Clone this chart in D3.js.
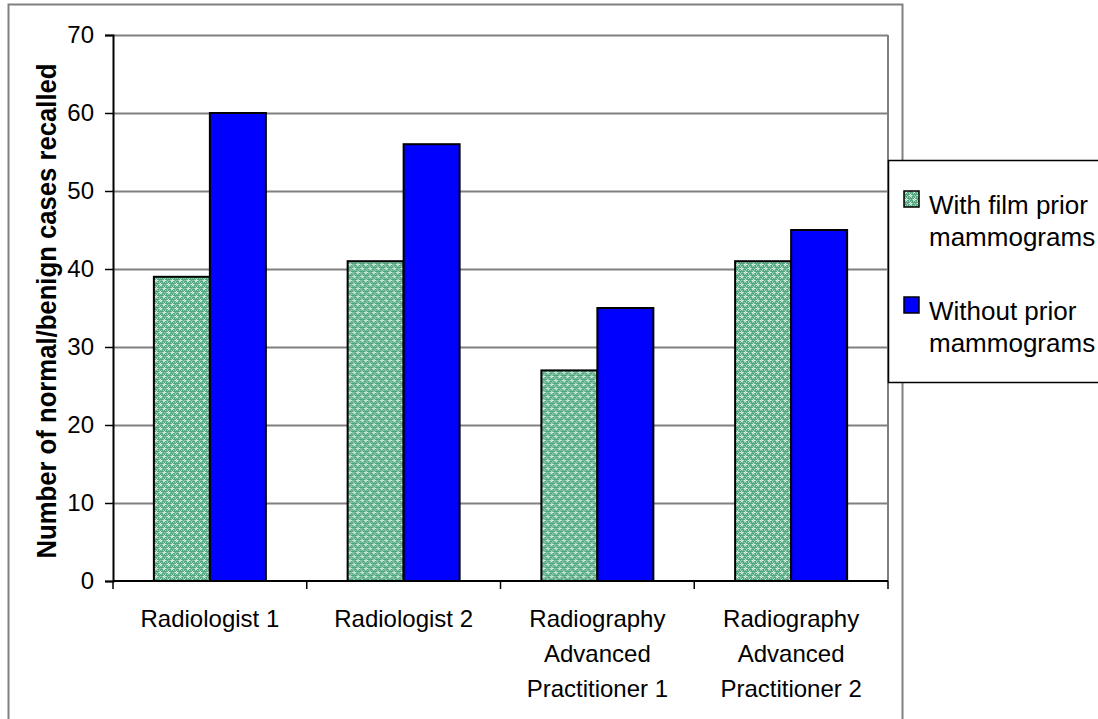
<!DOCTYPE html>
<html>
<head>
<meta charset="utf-8">
<script src="https://cdn.jsdelivr.net/npm/d3@7"></script>
<style>
  html, body { margin: 0; padding: 0; background: #fff; }
  svg { display: block; font-family: "Liberation Sans", Arial, sans-serif; }
</style>
</head>
<body>
<svg id="chart" width="1098" height="719"></svg>
<script>
// Recall counts per reader, with and without prior mammograms
const categories = [
  ["Radiologist 1"],
  ["Radiologist 2"],
  ["Radiography", "Advanced", "Practitioner 1"],
  ["Radiography", "Advanced", "Practitioner 2"]
];
const seriesNames = [
  ["With film prior", "mammograms"],
  ["Without prior", "mammograms"]
];
const withFilmPrior = [39, 41, 27, 41];
const withoutPrior = [60, 56, 35, 45];
const yTicks = [0, 10, 20, 30, 40, 50, 60, 70];
const yTitle = "Number of normal/benign cases recalled";

const svg = d3.select("#chart");
const plot = { left: 113, right: 888, top: 35, bottom: 581 };

// dotted green fill for the first series
const defs = svg.append("defs");
const pat = defs.append("pattern")
  .attr("id", "dotgreen").attr("patternUnits", "userSpaceOnUse")
  .attr("width", 8).attr("height", 8);
pat.append("rect").attr("width", 8).attr("height", 8).attr("fill", "#4fa67d");
const px = (pts, c) => pts.forEach(([x, y]) =>
  pat.append("rect").attr("x", x).attr("y", y).attr("width", 1).attr("height", 1).attr("fill", c));
// light checker
px([[0,0],[2,0],[4,0],[6,0],[1,2],[3,2],[5,2],[7,2],[0,4],[2,4],[4,4],[6,4],[1,6],[3,6],[5,6],[7,6],
    [1,1],[5,1],[3,5],[7,5]], "#a3d3bb");
// white crosses
px([[2,1],[1,0],[3,0],[2,7],[6,5],[5,4],[7,4],[6,3]], "#e8f5ee");

// outer chart frame
svg.append("rect").attr("x", 8.5).attr("y", 4.5).attr("width", 894).attr("height", 730)
  .attr("fill", "#fff").attr("stroke", "#808080").attr("stroke-width", 2);

const y = d3.scaleLinear().domain([0, 70]).range([plot.bottom, plot.top]);
const x0 = d3.scaleBand().domain(d3.range(categories.length)).range([plot.left, plot.right]);
const groupW = 112;
const x1 = d3.scaleBand().domain([0, 1]).range([0, groupW]);

// gridlines and plot frame
svg.append("g").selectAll("line").data(yTicks.filter(d => d > 0)).join("line")
  .attr("x1", plot.left).attr("x2", plot.right)
  .attr("y1", d => Math.round(y(d)) + 0.5).attr("y2", d => Math.round(y(d)) + 0.5)
  .attr("stroke", "#808080").attr("stroke-width", 2);
svg.append("line").attr("x1", plot.right).attr("x2", plot.right)
  .attr("y1", plot.top).attr("y2", plot.bottom).attr("stroke", "#808080").attr("stroke-width", 2);

// bars
const rows = categories.map((c, i) => [withFilmPrior[i], withoutPrior[i]]);
const groups = svg.append("g").selectAll("g").data(rows).join("g")
  .attr("transform", (d, i) => `translate(${x0(i) + (x0.bandwidth() - groupW) / 2},0)`);
groups.selectAll("rect").data(d => d).join("rect")
  .attr("x", (d, j) => x1(j))
  .attr("y", d => y(d))
  .attr("width", x1.bandwidth())
  .attr("height", d => plot.bottom - y(d))
  .attr("fill", (d, j) => j === 0 ? "url(#dotgreen)" : "#0000ff")
  .attr("stroke", "#000").attr("stroke-width", 2);

// y axis
const yAxis = d3.axisLeft(y).tickValues(yTicks).tickSize(8).tickPadding(11);
const gy = svg.append("g").attr("transform", `translate(${plot.left},0)`).call(yAxis);
gy.select(".domain").attr("stroke", "#000").attr("stroke-width", 2);
gy.selectAll(".tick line").attr("stroke", "#000").attr("stroke-width", 1.5);
gy.selectAll(".tick text").attr("font-size", 24).attr("fill", "#000")
  .attr("font-family", "'Liberation Sans', Arial, sans-serif");

// x axis
const gx = svg.append("g").attr("transform", `translate(0,${plot.bottom})`);
gx.append("line").attr("x1", plot.left).attr("x2", plot.right).attr("stroke", "#000").attr("stroke-width", 2);
gx.selectAll("line.tk").data(d3.range(categories.length + 1)).join("line").attr("class", "tk")
  .attr("x1", i => i < categories.length ? x0(i) : plot.right)
  .attr("x2", i => i < categories.length ? x0(i) : plot.right)
  .attr("y1", 0).attr("y2", 8).attr("stroke", "#000").attr("stroke-width", 1.5);
gx.selectAll("text").data(categories).join("text")
  .attr("text-anchor", "middle").attr("font-size", 24).attr("fill", "#000")
  .each(function (lines, i) {
    d3.select(this).selectAll("tspan").data(lines).join("tspan")
      .attr("x", x0(i) + x0.bandwidth() / 2)
      .attr("y", (d, k) => 46 + k * 35)
      .text(d => d);
  });

// y axis title
svg.append("text")
  .attr("transform", `translate(56,${(plot.top + plot.bottom) / 2 + 3}) rotate(-90)`)
  .attr("text-anchor", "middle").attr("font-size", 27).attr("font-weight", "bold")
  .attr("textLength", 495).attr("lengthAdjust", "spacingAndGlyphs")
  .text(yTitle);

// legend
const lg = svg.append("g").attr("transform", "translate(888,160)");
lg.append("rect").attr("x", 0.5).attr("y", 0.5).attr("width", 230).attr("height", 222)
  .attr("fill", "#fff").attr("stroke", "#000").attr("stroke-width", 1.5);
const items = lg.selectAll("g.item").data(seriesNames).join("g").attr("class", "item")
  .attr("transform", (d, i) => `translate(0,${31 + i * 106})`);
items.append("rect").attr("x", 16).attr("y", 0).attr("width", 15).attr("height", 16)
  .attr("fill", (d, i) => i === 0 ? "url(#dotgreen)" : "#0000ff")
  .attr("stroke", "#000").attr("stroke-width", 1.5);
items.append("text").attr("font-size", 26).attr("fill", "#000")
  .selectAll("tspan").data(d => d).join("tspan")
  .attr("x", 41)
  .attr("y", (d, k) => 23 + k * 32)
  .text(d => d);
</script>
</body>
</html>
